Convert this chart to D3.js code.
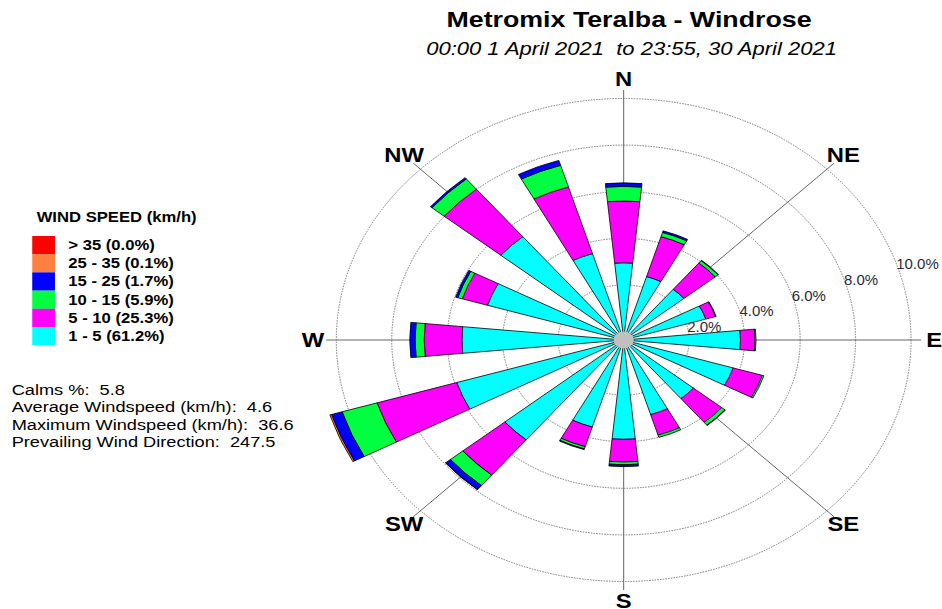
<!DOCTYPE html>
<html><head><meta charset="utf-8">
<script src="https://cdn.jsdelivr.net/npm/d3@7"></script>
<style>
html,body{margin:0;padding:0;background:#fff;}
text{font-family:"Liberation Sans",Arial,sans-serif;white-space:pre;}
</style></head>
<body><svg id="c" width="942" height="609"></svg>
<script>
// ---- data ----
const directions = ["N","NNE","NE","ENE","E","ESE","SE","SSE","S","SSW","SW","WSW","W","WNW","NW","NNW"];
const speedClasses = ["1 - 5","5 - 10","10 - 15","15 - 25","25 - 35","> 35"];
const speedPercents = ["61.2%","25.3%","5.9%","1.7%","0.1%","0.0%"];
const speed1to5   = [2.95,2.48,2.45,2.73,3.85,3.76,2.89,2.98,3.90,3.54,5.18,5.93,5.47,4.77,5.37,3.51];
const speed5to10  = [2.65,1.79,1.46,0.37,0.52,1.10,1.32,0.92,0.97,0.88,1.96,3.00,1.36,0.95,2.64,2.99];
const speed10to15 = [0.63,0.19,0.13,0.02,0.04,0.06,0.15,0.10,0.12,0.10,0.58,1.32,0.33,0.17,0.57,0.97];
const speed15to25 = [0.15,0.07,0.02,0.00,0.00,0.00,0.02,0.00,0.08,0.03,0.22,0.40,0.19,0.08,0.07,0.22];
const speed25to35 = [0,0,0,0,0,0,0,0,0,0,0.01,0.06,0,0,0,0];
const speedOver35 = [0,0,0,0,0,0,0,0,0,0,0,0,0,0,0,0];
const ringTicks = [2,4,6,8,10];
const compassLabels = ["N","NE","E","SE","S","SW","W","NW"];
const statsLines = ["Calms %:  5.8","Average Windspeed (km/h):  4.6","Maximum Windspeed (km/h):  36.6","Prevailing Wind Direction:  247.5"];
const titleText = "Metromix Teralba - Windrose";
const subtitleText = "00:00 1 April 2021  to 23:55, 30 April 2021";

// ---- layout ----
const series = [speed1to5,speed5to10,speed10to15,speed15to25,speed25to35,speedOver35];
const colors = ["#00ffff","#ff00ff","#00ff40","#0000ff","#ff7f3f","#ff0000"];
const sx = 1.19;              // picture is stretched horizontally
const cx = 524.1, cy = 340;
const r = d3.scaleLinear().domain([0,10]).range([8.5,241.5]);
const step = 2*Math.PI/directions.length;
const half = step/4;

const svg = d3.select("#c");
svg.append("rect").attr("width",942).attr("height",609).attr("fill","#fff");
const root = svg.append("g").attr("transform",`scale(${sx},1)`);

// title
root.append("text").attr("x",528.6).attr("y",27).attr("text-anchor","middle")
  .attr("font-size",22.5).attr("font-weight","bold").attr("fill","#000").text(titleText);
root.append("text").attr("x",530.7).attr("y",55).attr("text-anchor","middle")
  .attr("font-size",18.5).attr("font-style","italic").attr("fill","#000").text(subtitleText);

const chart = root.append("g").attr("transform",`translate(${cx},${cy})`);

// rings
chart.selectAll("circle.ring").data(ringTicks).join("circle").attr("class","ring")
  .attr("r",d=>r(d)).attr("fill","none").attr("stroke","#777").attr("stroke-width",1)
  .attr("stroke-dasharray","1.5,1.2").attr("vector-effect","non-scaling-stroke");

// axis lines
const axAngle = d3.scalePoint().domain(compassLabels).range([0,2*Math.PI*7/8]);
chart.selectAll("line.ax").data(compassLabels).join("line").attr("class","ax")
  .attr("x1",0).attr("y1",0)
  .attr("x2",d=>250*Math.sin(axAngle(d))).attr("y2",d=>-250*Math.cos(axAngle(d)))
  .attr("stroke","#666").attr("stroke-width",1).attr("vector-effect","non-scaling-stroke");

// stacked wedges
const arc = d3.arc();
const segs = [];
directions.forEach((dir,i)=>{
  let cum = 0;
  series.forEach((s,k)=>{
    const v = s[i];
    if (v<=0) return;
    const inner = k===0 ? 0 : r(cum);
    cum += v;
    const a = i*step;
    segs.push({dir,k,inner,outer:r(cum),a0:a-half,a1:a+half});
  });
});
chart.selectAll("path.seg").data(segs).join("path").attr("class","seg")
  .attr("d",d=>arc({innerRadius:d.inner,outerRadius:d.outer,startAngle:d.a0,endAngle:d.a1}))
  .attr("fill",d=>colors[d.k]).attr("stroke","#000").attr("stroke-width",0.8)
  .attr("stroke-linejoin","round").attr("vector-effect","non-scaling-stroke");

// calm circle
chart.append("circle").attr("r",r(0)).attr("fill","#c0c0c0");

// ring labels (not stretched)
chart.selectAll("text.rl").data(ringTicks).join("text").attr("class","rl")
  .attr("transform",d=>`translate(${1.5+0.942*r(d)},${10.8-0.338*r(d)}) scale(${1/sx},1)`)
  .attr("font-size",15).attr("fill","#2a2a3a").text(d=>d.toFixed(1)+"%");

// compass labels
chart.selectAll("text.cl").data(compassLabels).join("text").attr("class","cl")
  .attr("x",d=>261*Math.sin(axAngle(d))).attr("y",d=>-261*Math.cos(axAngle(d)))
  .attr("text-anchor","middle").attr("dominant-baseline","central")
  .attr("font-size",20).attr("font-weight","bold").attr("fill","#000").text(d=>d);

// legend
root.append("text").attr("x",30.8).attr("y",222).attr("font-size",14).attr("font-weight","bold").text("WIND SPEED (km/h)");
const legOrder = d3.range(series.length).reverse();
const leg = root.append("g");
legOrder.forEach((k,j)=>{
  const y0 = 236 + j*18.2;
  leg.append("rect").attr("x",27.1).attr("y",y0).attr("width",19.1).attr("height",18.3).attr("fill",colors[k]);
  leg.append("text").attr("x",57.4).attr("y",y0+14).attr("font-size",14).attr("font-weight","bold")
    .text(`${speedClasses[k]} (${speedPercents[k]})`);
});

// stats
root.selectAll("text.st").data(statsLines).join("text").attr("class","st")
  .attr("x",9.8).attr("y",(d,i)=>395+i*17.5).attr("font-size",15.3).attr("fill","#000").text(d=>d);
</script></body></html>
